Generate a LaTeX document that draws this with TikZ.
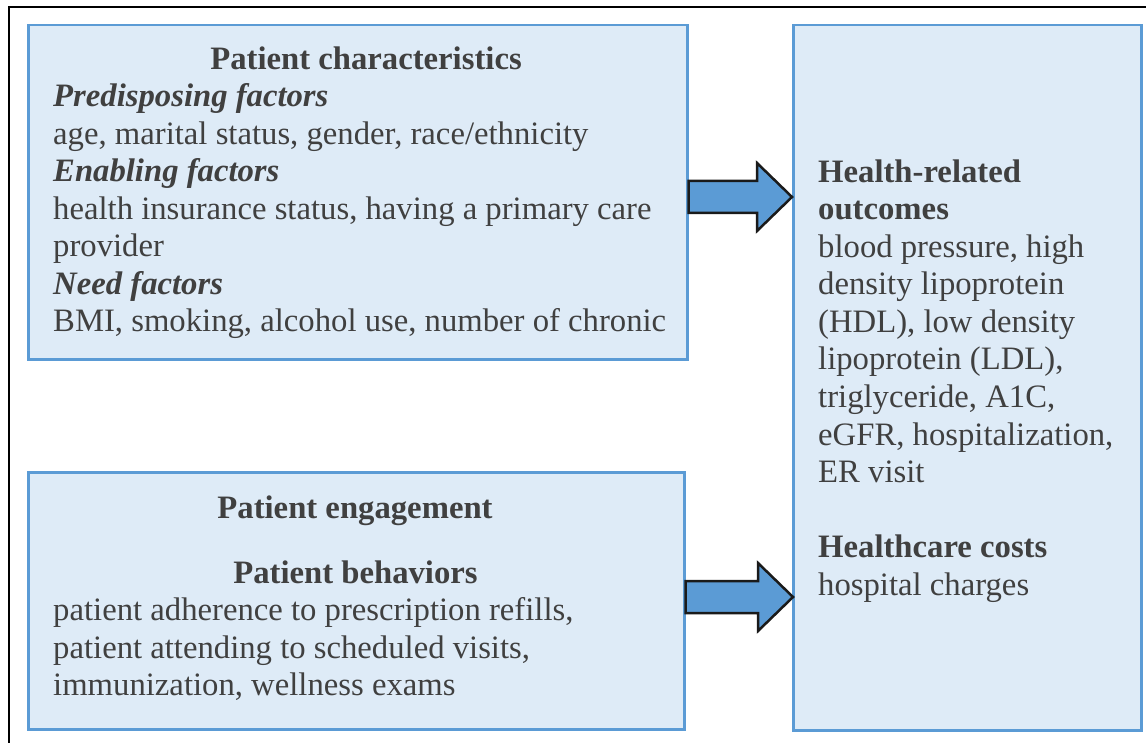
\documentclass[tikz,border=0pt]{standalone}
\usepackage{fontspec}
\setmainfont{Liberation Serif}
\usetikzlibrary{calc}
\definecolor{boxfill}{HTML}{DEEBF7}
\definecolor{boxline}{HTML}{5B9BD5}
\definecolor{arrowfill}{HTML}{5B9BD5}
\definecolor{ink}{HTML}{404040}
\definecolor{arrowline}{HTML}{1A1A1A}
\tikzset{
  panel/.style={draw=boxline, fill=boxfill, line width=2.5pt, inner sep=0pt, anchor=north west},
  txt/.style={anchor=base west, inner sep=0pt, text=ink, font=\fontsize{32.7pt}{37.5pt}\selectfont},
  ctxt/.style={txt, anchor=base},
  blockarrow/.style={draw=arrowline, fill=arrowfill, line width=2.5pt, line join=miter},
}
% block arrow from a tail point (#1) to a tip point (#2)
\newcommand\blockarrowpath[2]{%
  \draw[blockarrow] ($(#1)+(0,-16)$) -- ($(#2)+(-35,-16)$) -- ($(#2)+(-35,-34)$)
    -- (#2) -- ($(#2)+(-35,34)$) -- ($(#2)+(-35,16)$) -- ($(#1)+(0,16)$) -- cycle;}
\begin{document}
\begin{tikzpicture}[x=1pt, y=-1pt]
\useasboundingbox (0,0) rectangle (1146,743);
\clip (0,0) rectangle (1146,743);
\fill[white] (0,0) rectangle (1146,743);

% outer frame
\draw[line width=2.5pt] (1160,7) -- (9,7) -- (9,760);

% panels
\node[panel, minimum width=659pt, minimum height=334pt] (box1) at (27,24) {};
\node[panel, minimum width=656pt, minimum height=257pt] (box2) at (27,471) {};
\node[panel, minimum width=348pt, minimum height=705pt] (box3) at (792,24) {};

% patient characteristics
\node[ctxt] (b1title) at (366,69.5) {\textbf{Patient characteristics}};
\foreach \t [count=\i from 0] in {%
  {\textbf{\textit{Predisposing factors}}},
  {age, marital status, gender, race/ethnicity},
  {\textbf{\textit{Enabling factors}}},
  {health insurance status, having a primary care},
  {provider},
  {\textbf{\textit{Need factors}}},
  {BMI, smoking, alcohol use, number of chronic}}
  \node[txt] (b1line\i) at (53,107+37.5*\i) {\t};

% patient engagement
\node[ctxt] (b2title) at (355,518) {\textbf{Patient engagement}};
\node[ctxt] (b2sub) at (355.5,583.5) {\textbf{Patient behaviors}};
\foreach \t [count=\i from 0] in {%
  {patient adherence to prescription refills,},
  {patient attending to scheduled visits,},
  {immunization, wellness exams}}
  \node[txt] (b2line\i) at (53,620.5+37.5*\i) {\t};

% outcomes
\foreach \t [count=\i from 0] in {%
  {\textbf{Health-related}},
  {\textbf{outcomes}},
  {blood pressure, high},
  {density lipoprotein},
  {(HDL), low density},
  {lipoprotein (LDL),},
  {triglyceride, A1C,},
  {eGFR, hospitalization,},
  {ER visit}}
  \node[txt] (b3line\i) at (818,182.5+37.5*\i) {\t};
\node[txt] (b3costs) at (818,557.5) {\textbf{Healthcare costs}};
\node[txt] (b3charges) at (818,595) {hospital charges};

% connectors
\coordinate (y1) at (0,197);
\coordinate (y2) at (0,597);
\coordinate (tail1) at (box1.east |- y1);
\coordinate (tip1) at (box3.west |- y1);
\coordinate (tail2) at (box2.east |- y2);
\coordinate (tip2) at ($(box3.west |- y2)+(1,0)$);
\blockarrowpath{tail1}{tip1}
\blockarrowpath{tail2}{tip2}
\end{tikzpicture}
\end{document}
